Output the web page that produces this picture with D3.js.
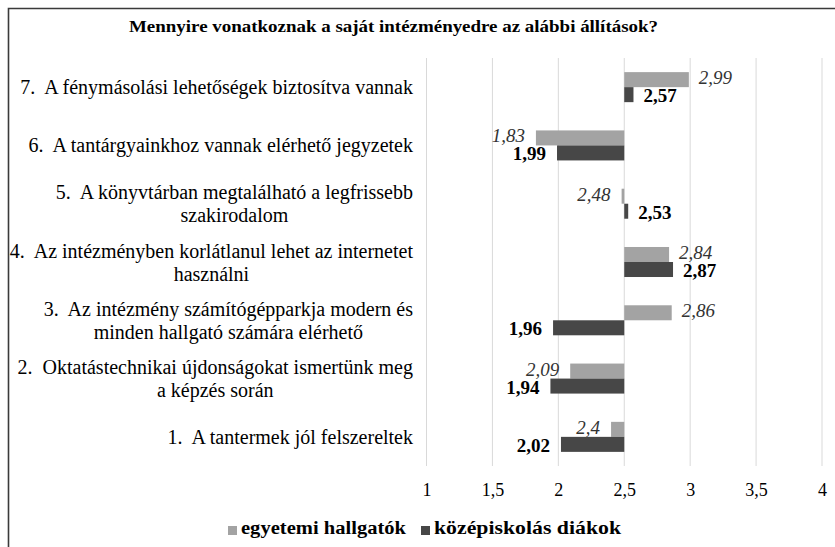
<!DOCTYPE html>
<html>
<head>
<meta charset="utf-8">
<script src="https://cdn.jsdelivr.net/npm/d3@7"></script>
<style>
  html, body { margin: 0; padding: 0; background: #fff; }
  svg { display: block; }
</style>
</head>
<body>
<svg id="chart" width="835" height="547"></svg>
<script>
// ---- data ----
const categories = [
  ["7.  A fénymásolási lehetőségek biztosítva vannak"],
  ["6.  A tantárgyainkhoz vannak elérhető jegyzetek"],
  ["5.  A könyvtárban megtalálható a legfrissebb", "szakirodalom"],
  ["4.  Az intézményben korlátlanul lehet az internetet", "használni"],
  ["3.  Az intézmény számítógépparkja modern és", "minden hallgató számára elérhető"],
  ["2.  Oktatástechnikai újdonságokat ismertünk meg", "a képzés során"],
  ["1.  A tantermek jól felszereltek"]
];
const seriesNames = ["egyetemi hallgatók", "középiskolás diákok"];
const egyetemi   = [2.99, 1.83, 2.48, 2.84, 2.86, 2.09, 2.40];
const kozepiskola = [2.57, 1.99, 2.53, 2.87, 1.96, 1.94, 2.02];
const valueLabelsEgyetemi = ["2,99", "1,83", "2,48", "2,84", "2,86", "2,09", "2,4"];
const valueLabelsKozep = ["2,57", "1,99", "2,53", "2,87", "1,96", "1,94", "2,02"];
const tickValues = [1, 1.5, 2, 2.5, 3, 3.5, 4];
const tickLabels = ["1", "1,5", "2", "2,5", "3", "3,5", "4"];
const baseline = 2.5;
const title = "Mennyire vonatkoznak a saját intézményedre az alábbi állítások?";

// ---- font detection ----
const svg = d3.select("#chart");
function pickFont(cands) {
  const t = svg.append("text").attr("font-size", 40).text("Mennyire vonatkoznak 1,234 ÁÉŐ");
  t.attr("font-family", "monospace");
  const base = t.node().getComputedTextLength();
  let found = "serif";
  for (const c of cands) {
    t.attr("font-family", `'${c}', monospace`);
    if (Math.abs(t.node().getComputedTextLength() - base) > 0.5) { found = `'${c}'`; break; }
  }
  t.remove();
  return found;
}
const FONT = pickFont(["Liberation Serif", "Tinos", "Times New Roman", "Times", "Nimbus Roman", "FreeSerif", "DejaVu Serif", "Noto Serif"]) + ", serif";

// ---- layout ----
const colors = ["#a3a3a3", "#474747"];
const plotTop = 58, plotBottom = 466;

const x = d3.scaleLinear().domain([1, 4]).range([426.5, 822]);
const idx = d3.range(categories.length);
const y = d3.scaleBand().domain(idx).range([plotTop, plotBottom]).paddingInner(0.485).paddingOuter(0.2425);
const ySub = d3.scaleBand().domain([0, 1]).range([0, y.bandwidth()]);

// frame
svg.append("path").attr("d", "M8.5,547 V8.5 H835").attr("fill", "none").attr("stroke", "#3a3a3a").attr("stroke-width", 1.6);

// title
svg.append("text").attr("x", 129).attr("y", 32).attr("font-family", FONT)
  .attr("font-weight", "bold").attr("font-size", 17)
  .attr("textLength", 529).attr("lengthAdjust", "spacingAndGlyphs")
  .attr("fill", "#000").text(title);

// gridlines
svg.append("g").selectAll("line").data(tickValues).join("line")
  .attr("x1", d => x(d)).attr("x2", d => x(d))
  .attr("y1", plotTop).attr("y2", plotBottom)
  .attr("stroke", "#d9d9d9").attr("stroke-width", 1);

// x axis via d3.axisBottom (labels only)
const xAxis = d3.axisBottom(x).tickValues(tickValues).tickFormat((d, i) => tickLabels[i]).tickSize(0).tickPadding(0);
const gx = svg.append("g").attr("transform", `translate(0,${483})`).call(xAxis);
gx.attr("font-family", FONT).attr("font-size", 18);
gx.select(".domain").remove();
gx.selectAll("text").attr("font-family", FONT).attr("font-size", 18).attr("fill", "#000");

// bars
const series = [egyetemi, kozepiskola];
const seriesLabels = [valueLabelsEgyetemi, valueLabelsKozep];
series.forEach((vals, s) => {
  const g = svg.append("g");
  g.selectAll("rect").data(vals).join("rect")
    .attr("x", d => x(Math.min(d, baseline)))
    .attr("width", d => Math.abs(x(d) - x(baseline)))
    .attr("y", (d, i) => y(i) + ySub(s))
    .attr("height", ySub.bandwidth())
    .attr("fill", colors[s]);
  g.selectAll("text").data(vals).join("text")
    .attr("x", d => d >= baseline ? x(d) + 10 : x(d) - 11)
    .attr("y", (d, i) => y(i) + ySub(s) + ySub.bandwidth() - (s === 0 ? 3 : 0))
    .attr("text-anchor", d => d >= baseline ? "start" : "end")
    .attr("font-family", FONT)
    .attr("font-size", 19)
    .attr("font-style", s === 0 ? "italic" : "normal")
    .attr("font-weight", s === 0 ? "normal" : "bold")
    .attr("fill", s === 0 ? "#333" : "#000")
    .text((d, i) => seriesLabels[s][i]);
});

// category labels
const labelRight = 413, lineH = 23;
categories.forEach((lines, i) => {
  const cy = y(i) + y.bandwidth() / 2;
  const t = svg.append("text").attr("font-family", FONT).attr("font-size", 20).attr("fill", "#000").attr("text-anchor", "middle")
    .style("white-space", "pre");
  const tsp = lines.map((ln, k) => t.append("tspan").text(ln));
  const widths = tsp.map(ts => ts.node().getComputedTextLength());
  const w = Math.max(...widths);
  const cx = labelRight - w / 2;
  const y0 = cy - (lines.length - 1) * lineH / 2 + 7;
  tsp.forEach((ts, k) => ts.attr("x", cx).attr("y", y0 + k * lineH));
});

// legend
const legend = svg.append("g");
const legX = [228, 421];
const legW = [165, 187];
seriesNames.forEach((n, s) => {
  legend.append("rect").attr("x", legX[s]).attr("y", 526).attr("width", 9).attr("height", 9).attr("fill", colors[s]);
  legend.append("text").attr("x", legX[s] + 13).attr("y", 534).attr("font-family", FONT).attr("font-size", 18).attr("font-weight", "bold")
    .attr("textLength", legW[s]).attr("lengthAdjust", "spacingAndGlyphs")
    .attr("fill", "#000").text(n);
});
</script>
</body>
</html>
